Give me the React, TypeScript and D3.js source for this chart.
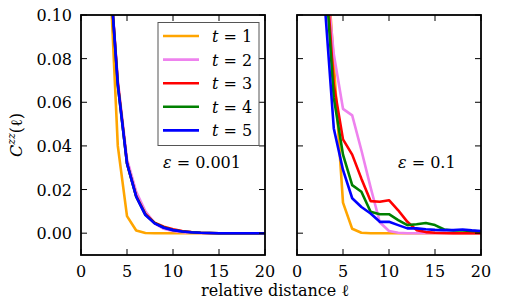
import React, { useEffect, useRef } from 'react';
import * as d3 from 'd3';

const distance = [1, 2, 3, 4, 5, 6, 7, 8, 9, 10, 11, 12, 13, 14, 15, 16, 17, 18, 19, 20];
const timeLabels = ['1', '2', '3', '4', '5'];
const colors = ['#ffa500', '#ee82ee', '#ff0000', '#008000', '#0000ff'];
const xTicks = [0, 5, 10, 15, 20];
const yTicks = [0, 0.02, 0.04, 0.06, 0.08, 0.1];
const epsLabels = ['0.001', '0.1'];

// eps = 0.001
const leftT1 = [1.0, 0.45, 0.132, 0.04, 0.0078, 0.0012, 0.0001, 0, 0, 0, 0, 0, 0, 0, 0, 0, 0, 0, 0, 0];
const leftT2 = [1.0, 0.45, 0.128, 0.07, 0.034, 0.019, 0.01, 0.0045, 0.002, 0.001, 0.0005, 0.0002, 0.0001, 0, 0, 0, 0, 0, 0, 0];
const leftT3 = [1.0, 0.45, 0.128, 0.069, 0.032, 0.017, 0.0088, 0.0048, 0.003, 0.0018, 0.001, 0.0005, 0.0002, 0.0001, 0, 0, 0, 0, 0, 0];
const leftT4 = [1.0, 0.45, 0.128, 0.068, 0.032, 0.0168, 0.0085, 0.0046, 0.0026, 0.0015, 0.0008, 0.0004, 0.0002, 0.0001, 0, 0, 0, 0, 0, 0];
const leftT5 = [1.0, 0.45, 0.128, 0.068, 0.032, 0.0167, 0.0083, 0.0045, 0.0025, 0.0014, 0.0008, 0.0004, 0.0002, 0.0001, 0, 0, 0, 0, 0, 0];

// eps = 0.1
const rightT1 = [1.0, 0.45, 0.14, 0.078, 0.014, 0.002, 0.0002, 0, 0, 0, 0, 0, 0, 0, 0, 0, 0, 0, 0, 0];
const rightT2 = [1.0, 0.45, 0.125, 0.082, 0.057, 0.054, 0.038, 0.021, 0.005, 0.001, 0.0002, 0, 0, 0, 0, 0, 0, 0, 0, 0];
const rightT3 = [1.0, 0.45, 0.13, 0.068, 0.043, 0.036, 0.025, 0.0147, 0.0144, 0.0151, 0.0105, 0.0052, 0.0014, 0.0005, 0.0002, 0.0001, 0, 0, 0, 0];
const rightT4 = [1.0, 0.45, 0.125, 0.062, 0.036, 0.022, 0.019, 0.0098, 0.0087, 0.0087, 0.006, 0.0037, 0.0041, 0.0047, 0.0037, 0.0017, 0.0012, 0.0012, 0.001, 0.0008];
const rightT5 = [1.0, 0.45, 0.106, 0.048, 0.029, 0.016, 0.012, 0.009, 0.0052, 0.0052, 0.0037, 0.0022, 0.0022, 0.0018, 0.0015, 0.0014, 0.0014, 0.0017, 0.0013, 0.001];

const leftSeries = [leftT1, leftT2, leftT3, leftT4, leftT5];
const rightSeries = [rightT1, rightT2, rightT3, rightT4, rightT5];

const FONT = "font-family: 'DejaVu Serif', serif; font-size: 16px";

export default function App() {
  const ref = useRef<SVGSVGElement>(null);

  useEffect(() => {
    const svg = d3.select(ref.current);
    svg.selectAll('*').remove();

    const width = 507, height = 300;
    const top = 15, bottom = 255;
    const panels = [
      { left: 81, right: 265, series: leftSeries, eps: epsLabels[0], epsX: 163, showY: true, legend: true },
      { left: 297, right: 481, series: rightSeries, eps: epsLabels[1], epsX: 398, showY: false, legend: false },
    ];

    svg.append('rect').attr('width', width).attr('height', height).attr('fill', '#fff');

    const y = d3.scaleLinear().domain([-0.01, 0.1]).range([bottom, top]);

    panels.forEach((p, pi) => {
      const x = d3.scaleLinear().domain([0, 20]).range([p.left, p.right]);
      const g = svg.append('g');

      const clipId = `clip-${pi}`;
      svg.append('clipPath').attr('id', clipId)
        .append('rect')
        .attr('x', p.left).attr('y', top)
        .attr('width', p.right - p.left).attr('height', bottom - top);

      const line = d3.line<number>()
        .x((d, i) => x(distance[i]))
        .y(d => y(d));

      g.append('g')
        .attr('clip-path', `url(#${clipId})`)
        .selectAll('path')
        .data(p.series)
        .join('path')
        .attr('d', d => line(d))
        .attr('fill', 'none')
        .attr('stroke', (d, i) => colors[i])
        .attr('stroke-width', 2.6)
        .attr('stroke-linejoin', 'round');

      // inward ticks on all four sides
      const tickLen = 6;
      const ticks = g.append('g').attr('stroke', '#000').attr('stroke-width', 1);
      xTicks.forEach(t => {
        ticks.append('line').attr('x1', x(t)).attr('x2', x(t)).attr('y1', bottom).attr('y2', bottom - tickLen);
        ticks.append('line').attr('x1', x(t)).attr('x2', x(t)).attr('y1', top).attr('y2', top + tickLen);
      });
      yTicks.forEach(t => {
        ticks.append('line').attr('x1', p.left).attr('x2', p.left + tickLen).attr('y1', y(t)).attr('y2', y(t));
        ticks.append('line').attr('x1', p.right).attr('x2', p.right - tickLen).attr('y1', y(t)).attr('y2', y(t));
      });

      g.append('rect')
        .attr('x', p.left).attr('y', top)
        .attr('width', p.right - p.left).attr('height', bottom - top)
        .attr('fill', 'none').attr('stroke', '#000').attr('stroke-width', 1.8);

      g.append('g')
        .attr('style', FONT).attr('text-anchor', 'middle')
        .selectAll('text')
        .data(xTicks)
        .join('text')
        .attr('x', d => x(d))
        .attr('y', 277)
        .text(d => String(d));

      if (p.showY) {
        g.append('g')
          .attr('style', FONT).attr('text-anchor', 'end')
          .selectAll('text')
          .data(yTicks)
          .join('text')
          .attr('x', 72)
          .attr('y', d => y(d) + 6)
          .text(d => d3.format('.2f')(d));
      }

      const eps = g.append('text')
        .attr('x', p.epsX).attr('y', 168)
        .attr('style', FONT);
      eps.append('tspan').attr('font-style', 'italic').text('ε');
      eps.append('tspan').text(` = ${p.eps}`);

      if (p.legend) {
        const lg = g.append('g');
        lg.append('rect')
          .attr('x', 158).attr('y', 22.5).attr('width', 101).attr('height', 123)
          .attr('fill', '#fff').attr('stroke', '#555').attr('stroke-width', 1);
        timeLabels.forEach((lab, i) => {
          const ry = 36 + i * 23.6;
          lg.append('line')
            .attr('x1', 163).attr('x2', 199).attr('y1', ry).attr('y2', ry)
            .attr('stroke', colors[i]).attr('stroke-width', 2.6);
          const tx = lg.append('text')
            .attr('x', 212).attr('y', ry + 6)
            .attr('style', FONT);
          tx.append('tspan').attr('font-style', 'italic').text('t');
          tx.append('tspan').text(` = ${lab}`);
        });
      }
    });

    svg.append('text')
      .attr('x', 275).attr('y', 296)
      .attr('text-anchor', 'middle')
      .attr('style', FONT)
      .text('relative distance ℓ');

    const yl = svg.append('text')
      .attr('transform', 'translate(22,135) rotate(-90)')
      .attr('text-anchor', 'middle')
      .attr('style', FONT);
    yl.append('tspan').attr('font-style', 'italic').text('C');
    yl.append('tspan').attr('font-style', 'italic').attr('font-size', 11).attr('dy', -7).text('zz');
    yl.append('tspan').attr('dy', 7).text('(ℓ)');
  }, []);

  return (
    <svg ref={ref} width={507} height={300}
      style={{ position: 'absolute', left: 0, top: 0, display: 'block' }} />
  );
}
